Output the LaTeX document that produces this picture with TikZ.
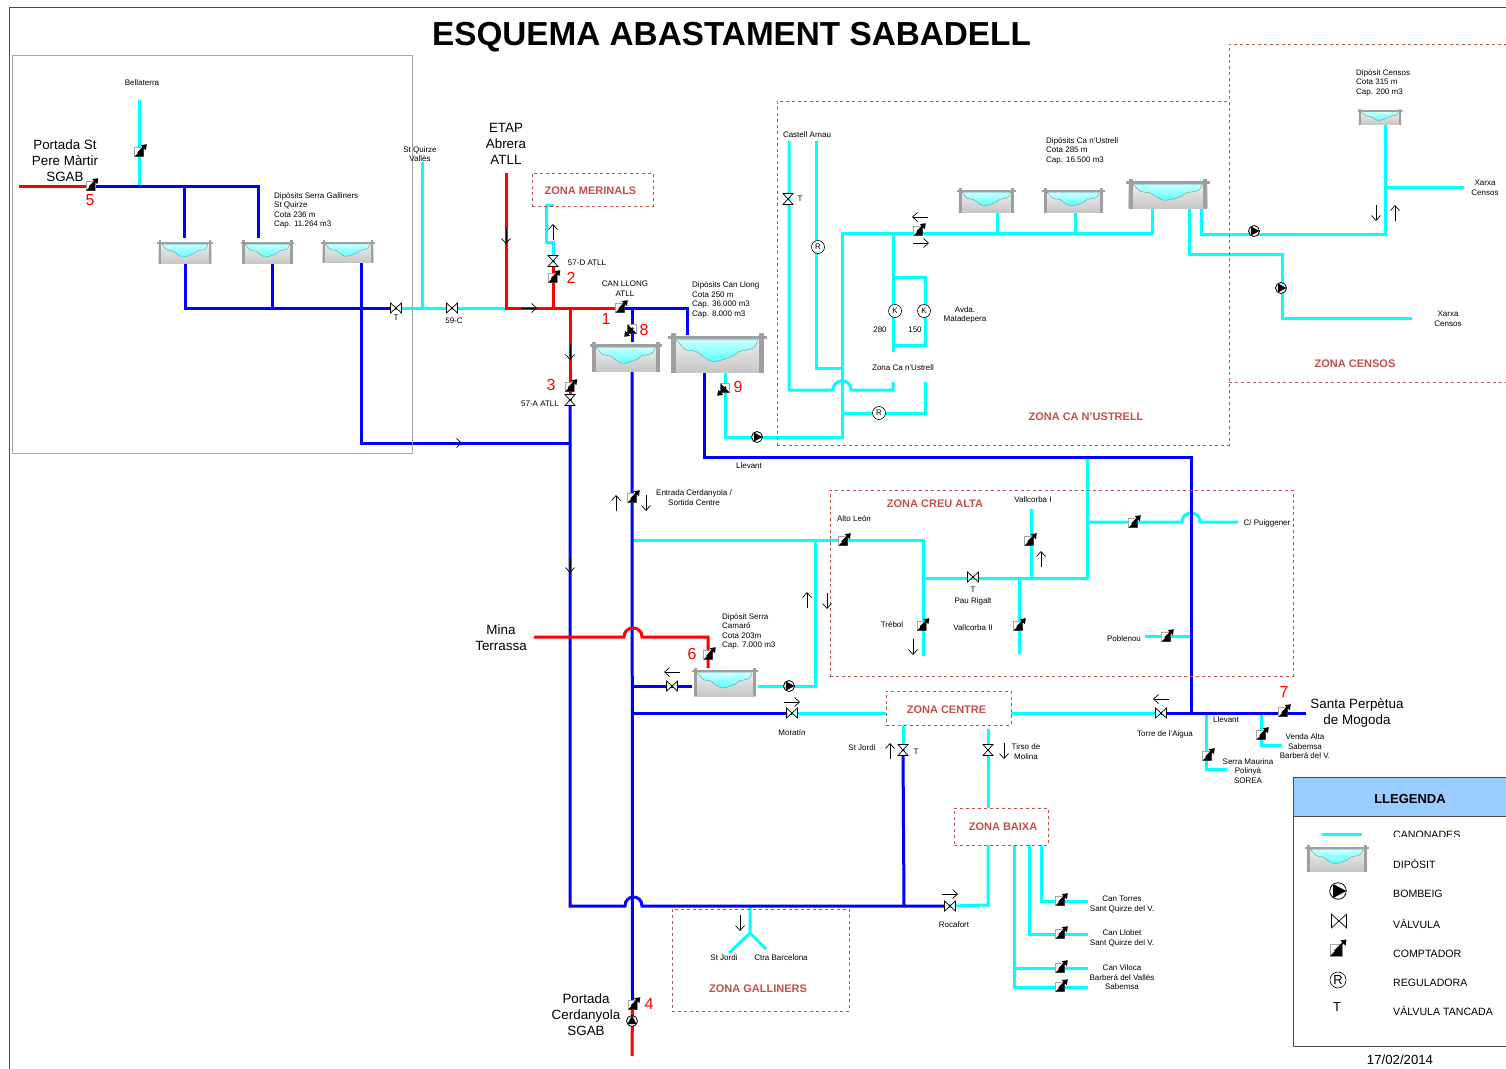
\documentclass[tikz,border=0pt]{standalone}
\usepackage{fontspec}
\setmainfont{Liberation Sans}
\usetikzlibrary{arrows.meta,backgrounds}
\definecolor{zonered}{HTML}{C0504D}
\definecolor{headblue}{HTML}{99CCFF}
\definecolor{purecyan}{HTML}{00FFFF}
\begin{document}
\begin{tikzpicture}[x=1pt,y=-1pt,
  pipeblue/.style={draw=blue, line width=3pt},
  pipecyan/.style={draw=purecyan, line width=3pt},
  pipered/.style={draw=red, line width=3pt},
  lab/.style={font=\fontsize{8}{9.5}\selectfont, align=center, inner sep=0pt, yshift=-.7pt},
  labl/.style={lab, align=left, anchor=west},
  big/.style={font=\fontsize{13.4}{16}\selectfont, align=center, inner sep=0pt, yshift=-1pt},
  num/.style={font=\fontsize{16}{16}\selectfont, text=red, inner sep=0pt},
  zona/.style={font=\bfseries\fontsize{11}{13}\selectfont, text=zonered, inner sep=0pt},
  zonebox/.style={draw=zonered, dashed, line width=.9pt, inner sep=0pt},
  leg/.style={font=\fontsize{10.6}{13}\selectfont, anchor=west, inner sep=0pt},
  tank/.style 2 args={minimum width=#1pt, minimum height=#2pt, inner sep=0pt,
    path picture={
      \begin{scope}[x=#1*0.01pt, y=-#2*0.01pt]
        \shade[top color=gray!12, bottom color=gray!45] (-47,-38) rectangle (47,50);
        \shadedraw[top color=purecyan!20, bottom color=purecyan!65, draw=teal!70, line width=.4pt]
          plot[smooth] coordinates {(-42,-33) (-32,-8) (-22,-4) (-5,21) (15,8) (22,-4) (36,-12) (41,-33)} -- cycle;
        \fill[gray!75] (-50,-42) rectangle (50,-34);
        \fill[gray!75] (-47,-50) rectangle (-42,50);
        \fill[gray!75] (42,-50) rectangle (47,50);
      \end{scope}}},
  meter/.style 2 args={minimum size=#2*16pt, inner sep=0pt,
    path picture={
      \begin{scope}[x=#1*#2*1pt, y=#2*1pt]
        \draw[fill=white, draw=gray!70, line width=.5pt] (-4.5,4.5) rectangle (4.5,-4.5);
        \fill[black] (-4.5,-4.5) -- (4.5,4.5) -- (4.5,-4.5) -- cycle;
        \draw[line width=2pt, -{Triangle[length=5pt,width=7pt]}] (-1,{-1*#1}) -- (7.8,{7.8*#1});
      \end{scope}}},
  meterup/.style={meter={1}{1}},
  meterdn/.style={meter={-1}{1}},
  valve/.style={minimum size=#1*13pt, inner sep=0pt,
    path picture={
      \begin{scope}[x=#1*1pt, y=-#1*1pt]
        \draw[fill=white, line width=.7pt] (-5.5,-5) -- (5.5,5) -- (5.5,-5) -- (-5.5,5) -- cycle;
      \end{scope}}},
  valve/.default=1,
  valvev/.style={minimum size=13pt, inner sep=0pt,
    path picture={
      \draw[fill=white, line width=.7pt] (-5,-5.5) -- (5,-5.5) -- (-5,5.5) -- (5,5.5) -- cycle;}},
  pump/.style 2 args={circle, draw=black, fill=white, line width=.8pt, minimum size=#1*11pt, inner sep=0pt,
    path picture={
      \begin{scope}[x={({#1*cos(#2)*1pt},{#1*sin(#2)*1pt})}, y={({-#1*sin(#2)*1pt},{#1*cos(#2)*1pt})}]
        \fill[black] (-3.2,-4.6) -- (5.5,0) -- (-3.2,4.6) -- cycle;
      \end{scope}}},
  reg/.style={circle, draw=black, fill=white, line width=.6pt, minimum size=13pt, inner sep=0pt, font=\fontsize{8}{8}\selectfont},
  flowarrow/.style={minimum size=20pt, inner sep=0pt,
    path picture={
      \begin{scope}[x={({cos(#1)*1pt},{sin(#1)*1pt})}]
        \draw[line width=.7pt, -{Straight Barb[length=5pt,width=9pt]}] (-8,0) -- (8,0);
      \end{scope}}},
]
\useasboundingbox (0,0) rectangle (1506,1068);

% === FRAMES AND ZONES ===
\node[draw=black!70, line width=.8pt, minimum width=1511pt, minimum height=1073pt, inner sep=0pt] (frame) at (764.5,543.5) {};
\node[draw=gray!70, line width=.6pt, minimum width=400pt, minimum height=398pt, inner sep=0pt] (boxQuirze) at (212,254) {};
\node[zonebox, minimum width=452pt, minimum height=344pt] (zCanUstrell) at (1003,273) {};
\node[zonebox, minimum width=282pt, minimum height=338pt] (zCensos) at (1370,213) {};
\node[zonebox, minimum width=463pt, minimum height=186pt] (zCreu) at (1061.5,583) {};
\node[zonebox, minimum width=177pt, minimum height=102pt] (zGalliners) at (760.5,960) {};
\node[zonebox, minimum width=121pt, minimum height=33pt] (zMerinals) at (592.5,189.5) {};
\node[zonebox, minimum width=125pt, minimum height=34pt] (zCentre) at (948.5,708) {};
\node[zonebox, minimum width=94pt, minimum height=37pt] (zBaixa) at (1001,826.5) {};

% === DIPOSITS ===
\node[tank={56}{24}] (tGal1) at (185,252) {};
\node[tank={54}{24}] (tGal2) at (267.5,252) {};
\node[tank={54}{23}] (tGal3) at (348,251.5) {};
\node[tank={72}{30}] (tLlong1) at (626,357) {};
\node[tank={99}{40}] (tLlong2) at (717.5,353) {};
\node[tank={59}{25}] (tUst1) at (986.5,200.5) {};
\node[tank={63}{25}] (tUst2) at (1073.5,200.5) {};
\node[tank={84}{30}] (tUst3) at (1168,194) {};
\node[tank={45}{16}] (tCensos) at (1380,117) {};
\node[tank={66}{28}] (tCamaro) at (725,682) {};

% === COMPTADORS ===
\node[meterup] (m5) at (90.5,186) {};
\node[meterup] (mBella) at (139,152) {};
\node[meterup] (m2) at (552.5,278) {};
\node[meterup] (m1) at (620,308) {};
\node[meterdn] (m8) at (632,329) {};
\node[meterup] (m3) at (569.5,387) {};
\node[meterdn] (m9) at (725,388) {};
\node[meterup] (mUstrell) at (918,231) {};
\node[meterup] (mEntrada) at (632,498) {};
\node[meterup] (mAlto) at (843,541) {};
\node[meterup] (mValI) at (1029,541) {};
\node[meterup] (mTrebol) at (921.5,626) {};
\node[meterup] (mValII) at (1018,626) {};
\node[meterup] (mPuig) at (1133,523) {};
\node[meterup] (mPoble) at (1166,637) {};
\node[meterup] (m6) at (708,655) {};
\node[meterup] (m7) at (1283,712) {};
\node[meterup] (mVenda) at (1261,735) {};
\node[meterup] (mSerra) at (1207,756) {};
\node[meterup] (m4) at (632.5,1005) {};
\node[meterup] (mTorres) at (1060,901) {};
\node[meterup] (mLlobet) at (1060,934) {};
\node[meterup] (mVil1) at (1060,968) {};
\node[meterup] (mVil2) at (1060,987) {};

% === VALVULES ===
\node[valve] (vQuirze) at (396,308) {};
\node[valve] (v59) at (452,308) {};
\node[valvev] (v57D) at (553,261) {};
\node[valvev] (v57A) at (570,400) {};
\node[valvev] (vArnau) at (788,199) {};
\node[valve] (vPau) at (973,577) {};
\node[valve] (vCamaro) at (672,686) {};
\node[valve] (vMoratin) at (792,713) {};
\node[valve] (vTorre) at (1161,713) {};
\node[valvev] (vJordi) at (903,750) {};
\node[valvev] (vTirso) at (988,750) {};
\node[valve] (vRocafort) at (950,906) {};

% === BOMBES I REGULADORES ===
\node[pump={1}{0}] (pLlevant) at (757,437) {};
\node[pump={1}{0}] (pCensos1) at (1254,231) {};
\node[pump={1}{0}] (pCensos2) at (1281,288) {};
\node[pump={1}{0}] (pCamaro) at (789,686) {};
\node[pump={1}{90}] (pCerd) at (632,1021) {};
\node[reg] (rArnau) at (818,247) {R};
\node[reg] (r280) at (895,311) {K};
\node[reg] (r150) at (924,311) {K};
\node[reg] (rZona) at (879,413) {R};

% === FLUX ===
\node[flowarrow=-90] (fEtap) at (506,236) {};
\node[flowarrow=0] (fAtll) at (529,308) {};
\node[flowarrow=90] (fMerin) at (553,232) {};
\node[flowarrow=-90] (f57A) at (570,352) {};
\node[flowarrow=0] (fGal) at (454,443) {};
\node[flowarrow=-90] (fBaix) at (570,565) {};
\node[flowarrow=90] (fEnt1) at (616,503) {};
\node[flowarrow=-90] (fEnt2) at (646,503) {};
\node[flowarrow=90] (fCam1) at (807,600) {};
\node[flowarrow=-90] (fCam2) at (827,601) {};
\node[flowarrow=180] (fVCam) at (672,672) {};
\node[flowarrow=0] (fMora) at (792,702) {};
\node[flowarrow=90] (fValI) at (1041,559) {};
\node[flowarrow=-90] (fTreb) at (913,647) {};
\node[flowarrow=180] (fTorre) at (1161,699) {};
\node[flowarrow=90] (fJordi) at (890,751) {};
\node[flowarrow=-90] (fTirso) at (1004,751) {};
\node[flowarrow=0] (fRoca) at (950,894) {};
\node[flowarrow=-90] (fGalli) at (740,923) {};
\node[flowarrow=180] (fUst1) at (920,217) {};
\node[flowarrow=0] (fUst2) at (921,243) {};
\node[flowarrow=-90] (fCen1) at (1376,213) {};
\node[flowarrow=90] (fCen2) at (1395,213) {};

% === PUNTS DE LES CANONADES ===
\coordinate (sPere) at (19,186);
\coordinate (jBella) at (139,186);
\coordinate (eBella) at (139,100);
\coordinate (jGal1) at (184,186);
\coordinate (eGal1) at (184,238);
\coordinate (cGal2) at (258,186);
\coordinate (eGal2) at (258,238);
\coordinate (oGal1) at (185,264);
\coordinate (cGal1) at (185,308);
\coordinate (oGal2) at (272,264);
\coordinate (jGal2) at (272,308);
\coordinate (oGal3) at (361,263);
\coordinate (cGal3) at (361,443);
\coordinate (jBaix) at (570,443);
\coordinate (eQuirze) at (422,162);
\coordinate (jQuirze) at (422,308);
\coordinate (sEtap) at (506,173);
\coordinate (jEtap) at (506,308);
\coordinate (jM2) at (553,308);
\coordinate (jM3) at (570,308);
\coordinate (cLl1) at (687,308);
\coordinate (eLl1) at (687,335);
\coordinate (jM8) at (632,308);
\coordinate (eM8) at (632,342);
\coordinate (cMe1) at (554,205);
\coordinate (cMe2) at (546,205);
\coordinate (cMe3) at (546,242);
\coordinate (cMe4) at (553,242);
\coordinate (cBaix) at (570,906);
\coordinate (br1a) at (625,906);
\coordinate (br1b) at (642,906);
\coordinate (jGall) at (750,906);
\coordinate (jJordi) at (904,906);
\coordinate (oLl1) at (632,372);
\coordinate (jCreuO) at (632,540);
\coordinate (jCamaro) at (632,686);
\coordinate (jMoratin) at (632,713);
\coordinate (sCerd) at (632,1056);
\coordinate (oLl2) at (725,373);
\coordinate (cLl2) at (725,437);
\coordinate (jUst) at (842,437);
\coordinate (cUst) at (842,233);
\coordinate (oLlev) at (704,373);
\coordinate (cLlev) at (704,457);
\coordinate (jCreuN) at (1087,457);
\coordinate (cLlev2) at (1191,457);
\coordinate (jLlev) at (1191,713);
\coordinate (jZon) at (893,233);
\coordinate (cUstE) at (1152,233);
\coordinate (oUst3) at (1152,209);
\coordinate (oUst1) at (997,213);
\coordinate (jUst1) at (997,233);
\coordinate (oUst2) at (1075,213);
\coordinate (jUst2) at (1075,233);
\coordinate (eZon) at (893,352);
\coordinate (jK1) at (893,277);
\coordinate (cK1) at (925,277);
\coordinate (cK2) at (925,345);
\coordinate (jK2) at (893,345);
\coordinate (eArn1) at (789,141);
\coordinate (cArn1) at (789,390);
\coordinate (br2a) at (833,390);
\coordinate (br2b) at (851,390);
\coordinate (cArn2) at (893,390);
\coordinate (eArn2) at (893,382);
\coordinate (eArn3) at (816,141);
\coordinate (cArn3) at (816,368);
\coordinate (jArn3) at (842,368);
\coordinate (jReg) at (842,413);
\coordinate (cReg) at (925,413);
\coordinate (eReg) at (925,382);
\coordinate (oCen2) at (1189,208);
\coordinate (cCen2a) at (1189,254);
\coordinate (cCen2b) at (1282,254);
\coordinate (cCen2c) at (1282,318);
\coordinate (eCen2) at (1412,318);
\coordinate (oCen1) at (1201,208);
\coordinate (cCen1a) at (1201,234);
\coordinate (cCen1b) at (1385,234);
\coordinate (oCen) at (1385,125);
\coordinate (jCen) at (1385,187);
\coordinate (eCen) at (1464,187);
\coordinate (jCam) at (815,540);
\coordinate (cCam) at (815,686);
\coordinate (oCam) at (758,686);
\coordinate (cCreu) at (923,540);
\coordinate (eTreb) at (923,656);
\coordinate (jPau) at (923,578);
\coordinate (cPau) at (1087,578);
\coordinate (eValI) at (1031,509);
\coordinate (jValI) at (1031,578);
\coordinate (jValII) at (1019,578);
\coordinate (eValII) at (1019,654);
\coordinate (jPuig) at (1087,522);
\coordinate (br3a) at (1182,522);
\coordinate (br3b) at (1200,522);
\coordinate (ePuig) at (1238,522);
\coordinate (ePoble) at (1145,636);
\coordinate (jPoble) at (1191,636);
\coordinate (sMina) at (534,637);
\coordinate (br4a) at (624,637);
\coordinate (br4b) at (642,637);
\coordinate (cMina) at (708,637);
\coordinate (eMina) at (708,668);
\coordinate (eCamV) at (692,686);
\coordinate (oCentW) at (886,713);
\coordinate (oCentE) at (1011,713);
\coordinate (ePerp) at (1306,713);
\coordinate (jSerra) at (1206,713);
\coordinate (cSerra) at (1206,769);
\coordinate (eSerra) at (1227,769);
\coordinate (jVenda) at (1261,713);
\coordinate (cVenda) at (1261,745);
\coordinate (eVenda) at (1282,745);
\coordinate (oCentS1) at (903,725);
\coordinate (oCentS2) at (988,729);
\coordinate (iBaixa) at (988,808);
\coordinate (oBaixa) at (988,845);
\coordinate (cBaixa) at (988,905);
\coordinate (jYgal) at (750,933);
\coordinate (eYgal1) at (729,953);
\coordinate (eYgal2) at (766,949);
\coordinate (oTorr) at (1041,845);
\coordinate (cTorr) at (1041,901);
\coordinate (eTorr) at (1088,901);
\coordinate (oLlob) at (1029,845);
\coordinate (cLlob) at (1029,934);
\coordinate (eLlob) at (1088,934);
\coordinate (oVil) at (1014,845);
\coordinate (jVil) at (1014,968);
\coordinate (cVil) at (1014,987);
\coordinate (eVil1) at (1088,968);
\coordinate (eVil2) at (1088,987);

% === CANONADES ===
\begin{scope}[on background layer]
\draw[pipecyan] (eBella) -- (jBella);
\draw[pipeblue] (m5.center) -- (cGal2) -- (eGal2);
\draw[pipeblue] (jGal1) -- (eGal1);
\draw[pipeblue] (oGal1) -- (cGal1) -- (vQuirze.center);
\draw[pipeblue] (oGal2) -- (jGal2);
\draw[pipeblue] (oGal3) -- (cGal3) -- (jBaix);
\draw[pipecyan] (vQuirze.center) -- (jEtap);
\draw[pipecyan] (eQuirze) -- (jQuirze);
\draw[pipecyan] (cMe1) -- (cMe2) -- (cMe3) -- (cMe4) -- (v57D.center);
\draw[pipecyan] (oLl2) -- (cLl2) -- (jUst) -- (cUst) -- (cUstE) -- (oUst3);
\draw[pipecyan] (oUst1) -- (jUst1);
\draw[pipecyan] (oUst2) -- (jUst2);
\draw[pipecyan] (jZon) -- (eZon);
\draw[pipecyan] (jK1) -- (cK1) -- (cK2) -- (jK2);
\draw[pipecyan] (eArn1) -- (cArn1) -- (br2a) .. controls +(0,-12) and +(0,-12) .. (br2b) -- (cArn2) -- (eArn2);
\draw[pipecyan] (eArn3) -- (cArn3) -- (jArn3);
\draw[pipecyan] (jReg) -- (cReg) -- (eReg);
\draw[pipecyan] (oCen2) -- (cCen2a) -- (cCen2b) -- (cCen2c) -- (eCen2);
\draw[pipecyan] (oCen1) -- (cCen1a) -- (cCen1b) -- (oCen);
\draw[pipecyan] (jCen) -- (eCen);
\draw[pipecyan] (jCreuO) -- (cCreu) -- (eTreb);
\draw[pipecyan] (jCam) -- (cCam) -- (oCam);
\draw[pipecyan] (jPau) -- (cPau) -- (jCreuN);
\draw[pipecyan] (eValI) -- (jValI);
\draw[pipecyan] (jValII) -- (eValII);
\draw[pipecyan] (jPuig) -- (br3a) .. controls +(0,-12) and +(0,-12) .. (br3b) -- (ePuig);
\draw[pipecyan] (ePoble) -- (jPoble);
\draw[pipecyan] (vMoratin.center) -- (oCentW);
\draw[pipecyan] (oCentE) -- (vTorre.center);
\draw[pipecyan] (jSerra) -- (cSerra) -- (eSerra);
\draw[pipecyan] (jVenda) -- (cVenda) -- (eVenda);
\draw[pipecyan] (oCentS1) -- (vJordi.center);
\draw[pipecyan] (oCentS2) -- (iBaixa);
\draw[pipecyan] (oBaixa) -- (cBaixa) -- (vRocafort.center);
\draw[pipecyan] (jGall) -- (jYgal) -- (eYgal1);
\draw[pipecyan] (jYgal) -- (eYgal2);
\draw[pipecyan] (oTorr) -- (cTorr) -- (eTorr);
\draw[pipecyan] (oLlob) -- (cLlob) -- (eLlob);
\draw[pipecyan] (oVil) -- (cVil) -- (eVil2);
\draw[pipecyan] (jVil) -- (eVil1);
\draw[pipeblue] (m1.center) -- (cLl1) -- (eLl1);
\draw[pipeblue] (jM8) -- (eM8);
\draw[pipeblue] (v57A.center) -- (cBaix) -- (br1a) .. controls +(0,-12) and +(0,-12) .. (br1b) -- (vRocafort.center);
\draw[pipeblue] (oLl1) -- (m4.center);
\draw[pipeblue] (oLlev) -- (cLlev) -- (cLlev2) -- (jLlev);
\draw[pipeblue] (jCamaro) -- (eCamV);
\draw[pipeblue] (jMoratin) -- (vMoratin.center);
\draw[pipeblue] (vTorre.center) -- (ePerp);
\draw[pipeblue] (vJordi.center) -- (jJordi);
\draw[pipered] (sPere) -- (m5.center);
\draw[pipered] (sEtap) -- (jEtap) -- (m1.center);
\draw[pipered] (jM2) -- (v57D.center);
\draw[pipered] (jM3) -- (v57A.center);
\draw[pipered] (sMina) -- (br4a) .. controls +(0,-12) and +(0,-12) .. (br4b) -- (cMina) -- (eMina);
\draw[pipered] (sCerd) -- (m4.center);
\end{scope}

% === TEXTOS ===
\node[font=\bfseries\fontsize{33.3}{36}\selectfont, inner sep=0pt] (title) at (731.5,37) {ESQUEMA ABASTAMENT SABADELL};
\node[lab] (lBella) at (142,82) {Bellaterra};
\node[big] (lPere) at (65,160) {Portada St\\Pere Màrtir\\SGAB};
\node[num] (n5) at (90,200) {5};
\node[labl] (lGal) at (274,209.5) {Dipòsits Serra Galliners\\St Quirze\\Cota 236 m\\Cap. 11.264 m3};
\node[lab] (lQuirze) at (420,153.5) {St Quirze\\Vallès};
\node[lab] (lTq) at (396,317) {T};
\node[lab] (l59) at (454,320) {59-C};
\node[big] (lEtap) at (506,143) {ETAP\\Abrera\\ATLL};
\node[zona] (zlMer) at (590.5,190.5) {ZONA MERINALS};
\node[lab] (l57D) at (587,262) {57-D ATLL};
\node[num] (n2) at (571,278) {2};
\node[lab] (lCanLl) at (625,288) {CAN LLONG\\ATLL};
\node[num] (n1) at (606,319) {1};
\node[num] (n8) at (644,330) {8};
\node[labl] (lLlong) at (692,299) {Dipòsits Can Llong\\Cota 250 m\\Cap. 36.000 m3\\Cap. 8.000 m3};
\node[num] (n3) at (551,385) {3};
\node[lab] (l57A) at (540,403) {57-A ATLL};
\node[num] (n9) at (738,387) {9};
\node[lab] (lLlev) at (749,465) {Llevant};
\node[lab] (lArnau) at (807,134) {Castell Arnau};
\node[lab] (lTa) at (800,198) {T};
\node[labl] (lUst) at (1046,150) {Dipòsits Ca n'Ustrell\\Cota 285 m\\Cap. 16.500 m3};
\node[lab] (lAvda) at (965,314) {Avda.\\Matadepera};
\node[lab] (l280) at (880,329) {280};
\node[lab] (l150) at (915,329) {150};
\node[lab] (lZonaU) at (903,367) {Zona Ca n'Ustrell};
\node[zona] (zlUst) at (1086,416.5) {ZONA CA N'USTRELL};
\node[labl] (lCens) at (1356,82) {Dipòsit Censos\\Cota 315 m\\Cap. 200 m3};
\node[lab] (lXar1) at (1485,187) {Xarxa\\Censos};
\node[lab] (lXar2) at (1448,318) {Xarxa\\Censos};
\node[zona] (zlCens) at (1355,363.5) {ZONA CENSOS};
\node[lab] (lEnt) at (694,497) {Entrada Cerdanyola /\\Sortida Centre};
\node[zona] (zlCreu) at (935,503.5) {ZONA CREU ALTA};
\node[lab] (lValI) at (1033,499) {Vallcorba I};
\node[lab] (lAlto) at (854,518) {Alto León};
\node[lab] (lPuig) at (1267,523) {C/ Puiggener};
\node[lab] (lTp) at (973,589) {T};
\node[lab] (lPau) at (973,601) {Pau Rigalt};
\node[lab] (lTreb) at (892,624) {Trébol};
\node[lab] (lValII) at (973,627) {Vallcorba II};
\node[lab] (lPoble) at (1124,638) {Poblenou};
\node[big] (lMina) at (501,637) {Mina\\Terrassa};
\node[labl] (lCamaro) at (722,630.5) {Dipòsit Serra\\Camaró\\Cota 203m\\Cap. 7.000 m3};
\node[num] (n6) at (692,654) {6};
\node[lab] (lMora) at (792,732) {Moratín};
\node[zona] (zlCent) at (946.5,709.5) {ZONA CENTRE};
\node[lab] (lJordi) at (862,747) {St Jordi};
\node[lab] (lTj) at (916,751) {T};
\node[lab] (lTirso) at (1026,751) {Tirso de\\Molina};
\node[lab] (lTorre) at (1165,734) {Torre de l'Aigua};
\node[lab] (lLlev2) at (1226,719) {Llevant};
\node[num] (n7) at (1284,692) {7};
\node[big] (lPerp) at (1357,711.5) {Santa Perpètua\\de Mogoda};
\node[lab] (lVenda) at (1305,745.5) {Venda Alta\\Sabemsa\\Barberá del V.};
\node[lab] (lSerra) at (1248,770) {Serra Maurina\\Polinyà\\SOREA};
\node[zona] (zlBaix) at (1003,827) {ZONA BAIXA};
\node[lab] (lRoca) at (954,924) {Rocafort};
\node[lab] (lYgal1) at (724,957) {St Jordi};
\node[lab] (lYgal2) at (781,957) {Ctra Barcelona};
\node[zona] (zlGall) at (758,988.5) {ZONA GALLINERS};
\node[big] (lCerd) at (586,1014) {Portada\\Cerdanyola\\SGAB};
\node[num] (n4) at (649,1004) {4};
\node[lab] (lTorr) at (1122,903.5) {Can Torres\\Sant Quirze del V.};
\node[lab] (lLlob) at (1122,937.5) {Can Llobet\\Sant Quirze del V.};
\node[lab] (lVil) at (1122,976.5) {Can Viloca\\Barberá del Vallès\\Sabemsa};

% === LLEGENDA ===
\node[draw=black!70, fill=white, line width=.8pt, minimum width=227pt, minimum height=230pt, inner sep=0pt] (legBody) at (1406.5,931) {};
\node[draw=black!70, fill=headblue, line width=.8pt, minimum width=227pt, minimum height=39pt, inner sep=0pt] (legHead) at (1406.5,796.5) {};
\node[font=\bfseries\fontsize{13}{15}\selectfont, inner sep=0pt] (legTitle) at (1410,799) {LLEGENDA};
\coordinate (legPipeA) at (1322,834);
\coordinate (legPipeB) at (1362,834);
\draw[pipecyan] (legPipeA) -- (legPipeB);
\begin{scope}
  \clip (1385,822) rectangle (1500,836.5);
  \node[leg] (legPipeT) at (1393,835) {CANONADES};
\end{scope}
\node[tank={64}{27}] (legTank) at (1337,858) {};
\node[leg] (legTankT) at (1393,863.5) {DIPÒSIT};
\node[pump={1.5}{0}] (legPump) at (1338,891) {};
\node[leg] (legPumpT) at (1393,893.5) {BOMBEIG};
\node[valve=1.35] (legValve) at (1339,921) {};
\node[leg] (legValveT) at (1393,923.5) {VÀLVULA};
\node[meter={1}{1.35}] (legMeter) at (1336,950) {};
\node[leg] (legMeterT) at (1393,953.5) {COMPTADOR};
\node[reg, minimum size=16pt, font=\fontsize{13}{13}\selectfont] (legReg) at (1338,980) {R};
\node[leg] (legRegT) at (1393,982.5) {REGULADORA};
\node[font=\fontsize{13}{13}\selectfont, inner sep=0pt] (legT) at (1337,1007) {T};
\node[leg] (legTT) at (1393,1011) {VÀLVULA TANCADA};
\node[font=\fontsize{13.2}{14}\selectfont, inner sep=0pt] (date) at (1400,1060) {17/02/2014};
\end{tikzpicture}
\end{document}
